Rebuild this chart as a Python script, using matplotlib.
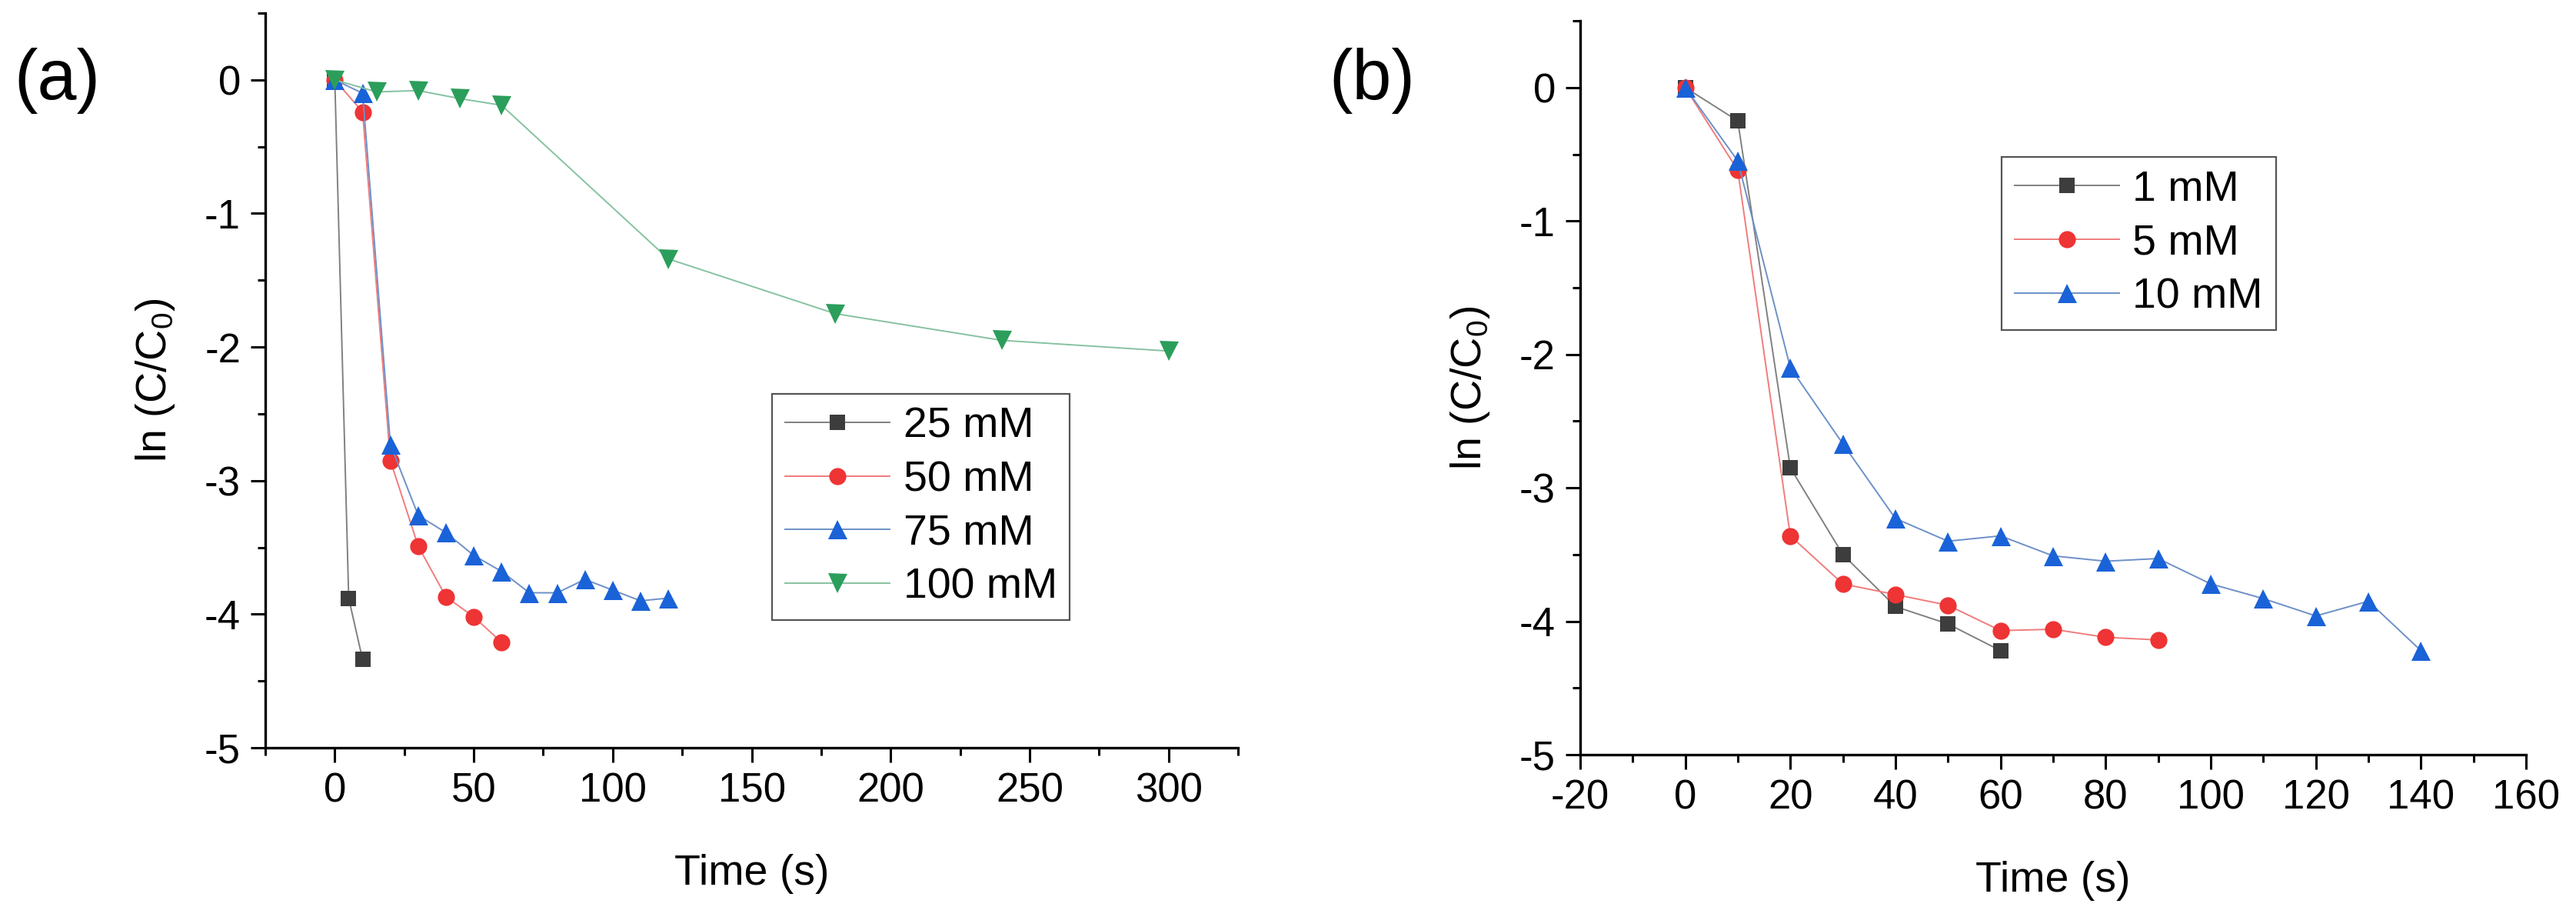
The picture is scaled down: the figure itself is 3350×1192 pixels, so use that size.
import matplotlib
matplotlib.use("Agg")
import matplotlib.pyplot as plt
from matplotlib.ticker import MultipleLocator

plt.rcParams['font.family'] = ['Liberation Sans', 'DejaVu Sans']
plt.rcParams['mathtext.fontset'] = 'custom'
plt.rcParams['mathtext.rm'] = 'Liberation Sans'
plt.rcParams['axes.unicode_minus'] = False

# panel (a): concentration series, time (s) vs ln(C/C0)
t_25 = [0, 5, 10]
y_25 = [0, -3.88, -4.34]
t_50 = [0, 10, 20, 30, 40, 50, 60]
y_50 = [0, -0.24, -2.85, -3.49, -3.87, -4.02, -4.21]
t_75 = [0, 10, 20, 30, 40, 50, 60, 70, 80, 90, 100, 110, 120]
y_75 = [0, -0.10, -2.73, -3.26, -3.39, -3.56, -3.68, -3.84, -3.84, -3.74, -3.82, -3.90, -3.88]
t_100 = [0, 15, 30, 45, 60, 120, 180, 240, 300]
y_100 = [0, -0.09, -0.08, -0.14, -0.19, -1.34, -1.75, -1.95, -2.03]

# panel (b)
t_1 = [0, 10, 20, 30, 40, 50, 60]
y_1 = [0, -0.25, -2.85, -3.50, -3.89, -4.02, -4.22]
t_5 = [0, 10, 20, 30, 40, 50, 60, 70, 80, 90]
y_5 = [0, -0.62, -3.36, -3.72, -3.80, -3.88, -4.07, -4.06, -4.12, -4.14]
t_10 = [0, 10, 20, 30, 40, 50, 60, 70, 80, 90, 100, 110, 120, 130, 140]
y_10 = [0, -0.55, -2.10, -2.67, -3.23, -3.40, -3.36, -3.51, -3.55, -3.53, -3.72, -3.83, -3.96, -3.85, -4.22]

labels_a = ['25 mM', '50 mM', '75 mM', '100 mM']
labels_b = ['1 mM', '5 mM', '10 mM']

# (marker, marker colour, line colour, marker size)
styles = [
    ('s', '#3d3d3d', '#808080', 15),
    ('o', '#ee3434', '#f07c7c', 16),
    ('^', '#1a62d8', '#6d90c8', 18),
    ('v', '#2b9e5b', '#86c2a0', 18),
]

FS_TICK = 38
FS_LABEL = 40


def style_axes(ax, xlim, xmaj, xmin, ylab_x):
    ax.set_xlim(*xlim)
    ax.set_ylim(-5, 0.5)
    ax.xaxis.set_major_locator(MultipleLocator(xmaj))
    ax.xaxis.set_minor_locator(MultipleLocator(xmin))
    ax.yaxis.set_major_locator(MultipleLocator(1))
    ax.yaxis.set_minor_locator(MultipleLocator(0.5))
    for side in ('top', 'right'):
        ax.spines[side].set_visible(False)
    for side in ('left', 'bottom'):
        ax.spines[side].set_linewidth(2.4)
    ax.tick_params(which='major', direction='out', length=14, width=2.2,
                   labelsize=FS_TICK, pad=9)
    ax.tick_params(which='minor', direction='out', length=7, width=2.2)
    ax.set_xlabel('Time (s)', fontsize=FS_LABEL)
    ax.set_ylabel(r'ln (C/C$_\mathregular{0}$)', fontsize=FS_LABEL)
    ax.xaxis.set_label_coords(0.5, -0.145)
    ax.yaxis.set_label_coords(ylab_x, 0.5)


def plot_series(ax, ts, ys, labels):
    for t, y, lab, (mk, mc, lc, ms) in zip(ts, ys, labels, styles):
        ax.plot(t, y, color=lc, lw=1.4, marker=mk, ms=ms, mfc=mc, mec=mc,
                mew=0, label=lab)


def add_legend(ax, anchor):
    leg = ax.legend(loc='upper left', bbox_to_anchor=anchor, borderaxespad=0,
                    fontsize=FS_LABEL, handlelength=2.45, handletextpad=0.32,
                    borderpad=0.3, labelspacing=0.32, fancybox=False,
                    framealpha=1, edgecolor='#555555')
    leg.get_frame().set_linewidth(1.6)


fig = plt.figure(figsize=(33.5, 11.92), dpi=100)
ax_a = fig.add_axes([0.103, 0.1846, 0.3776, 0.8011])
ax_b = fig.add_axes([0.6134, 0.177, 0.3672, 0.8003])

plot_series(ax_a, [t_25, t_50, t_75, t_100], [y_25, y_50, y_75, y_100], labels_a)
style_axes(ax_a, (-25, 325), 50, 25, -0.091)
add_legend(ax_a, (0.521, 0.482))

plot_series(ax_b, [t_1, t_5, t_10], [y_1, y_5, y_10], labels_b)
style_axes(ax_b, (-20, 160), 20, 10, -0.0935)
add_legend(ax_b, (0.4455, 0.8145))

fig.text(74 / 3350, 1 - 105 / 1192, '(a)', fontsize=66, ha='center', va='center')
fig.text(1784 / 3350, 1 - 105 / 1192, '(b)', fontsize=66, ha='center', va='center')

fig.savefig('out.png', dpi=100)
